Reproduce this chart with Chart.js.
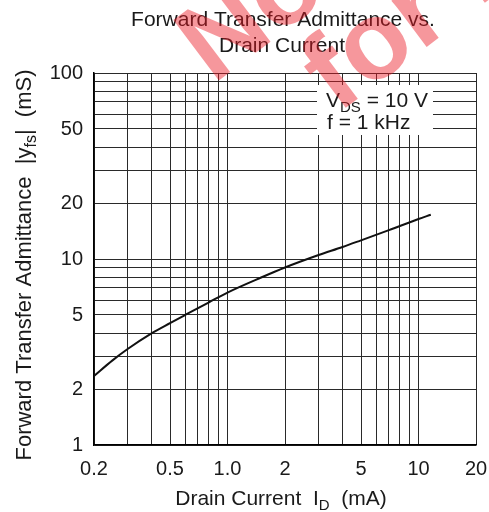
<!DOCTYPE html>
<html><head><meta charset="utf-8">
<script src="https://cdn.jsdelivr.net/npm/chart.js@4/dist/chart.umd.min.js"></script>
<style>html,body{margin:0;padding:0;background:#fff;}#wrap{width:489px;height:512px;}</style>
</head><body><div id="wrap"><canvas id="c" width="489" height="512"></canvas></div>
<script>
const drainCurrent_mA = [0.2,0.25,0.3,0.4,0.5,0.6,0.8,1.0,1.5,2,3,4,5,7,10,11.6];
const admittance_mS   = [2.35,2.85,3.28,3.98,4.52,5.0,5.85,6.6,7.95,9.0,10.5,11.6,12.6,14.3,16.4,17.3];
const xGridValues = [0.2,0.3,0.4,0.5,0.6,0.7,0.8,0.9,1,2,3,4,5,6,7,8,9,10,20];
const xTickValues = [0.2,0.5,1,2,5,10,20];
const xTickLabels = ['0.2','0.5','1.0','2','5','10','20'];
const yGridValues = [1,2,3,4,5,6,7,8,9,10,20,30,40,50,60,70,80,90,100];
const yTickValues = [1,2,5,10,20,50,100];
const yTickLabels = ['1','2','5','10','20','50','100'];
const titleLines = ['Forward Transfer Admittance vs.','Drain Current'];
const conditionLines = [[['V',0],['DS',1],[' = 10 V',0]],[['f = 1 kHz',0]]];
const xTitleParts = [['Drain Current  I',0],['D',1],['  (mA)',0]];
const yTitleParts = [['Forward Transfer Admittance  |y',0],['fs',1],['|  (mS)',0]];
const watermarkLines = ['Not Recommended','for New Design'];

const FONT = '"Liberation Sans", Arial, Helvetica, sans-serif';
const TXT = '#1a1a1a';

function labelFor(vals, labels, v){
  for (let i=0;i<vals.length;i++) if (Math.abs(vals[i]-v) < 1e-9) return labels[i];
  return '';
}
function drawRich(ctx, parts, x, y, size, subSize, align){
  let w = 0;
  const widths = parts.map(p => { ctx.font = (p[1]?subSize:size)+'px '+FONT; const m = ctx.measureText(p[0]).width; w += m; return m; });
  let cx = align==='center' ? x - w/2 : x;
  ctx.textAlign = 'left'; ctx.textBaseline = 'alphabetic';
  parts.forEach((p,i) => {
    ctx.font = (p[1]?subSize:size)+'px '+FONT;
    ctx.fillText(p[0], cx, y + (p[1]? 5 : 0));
    cx += widths[i];
  });
}

const overlay = {
  id: 'overlay',
  afterDraw(chart){
    const ctx = chart.ctx, a = chart.chartArea;
    ctx.save();
    // condition box
    ctx.fillStyle = '#fff';
    ctx.fillRect(a.left+223, a.top+12, 116, 50);
    ctx.fillStyle = TXT;
    drawRich(ctx, conditionLines[0], a.left+232, a.top+34, 21, 15, 'left');
    drawRich(ctx, conditionLines[1], a.left+233, a.top+56, 21, 15, 'left');
    // title
    ctx.textAlign = 'center'; ctx.textBaseline = 'alphabetic';
    ctx.font = '21px '+FONT;
    ctx.fillText(titleLines[0], 283, 26);
    ctx.fillText(titleLines[1], 282, 52);
    // x title
    drawRich(ctx, xTitleParts, 281, 505, 21, 15, 'center');
    // y title
    ctx.save();
    ctx.translate(31, 265);
    ctx.rotate(-Math.PI/2);
    drawRich(ctx, yTitleParts, 0, 0, 22, 16, 'center');
    ctx.restore();
    // watermark
    ctx.save();
    ctx.translate(213, 85);
    ctx.rotate(-37*Math.PI/180);
    ctx.font = 'bold 110px '+FONT;
    ctx.fillStyle = 'rgba(235,25,35,0.45)';
    ctx.textAlign = 'left';
    ctx.fillText(watermarkLines[0], 0, 0);
    ctx.fillText(watermarkLines[1], 82, 98);
    ctx.restore();
    ctx.restore();
  }
};

new Chart(document.getElementById('c'), {
  type: 'line',
  data: {
    datasets: [{
      data: drainCurrent_mA.map((x,i)=>({x:x, y:admittance_mS[i]})),
      borderColor: '#111', borderWidth: 2, pointRadius: 0,
      tension: 0.4, cubicInterpolationMode: 'monotone', fill: false
    }]
  },
  options: {
    responsive: false, animation: false, devicePixelRatio: 1,
    layout: { padding: { left: 0, right: 13, top: 73, bottom: 0 } },
    plugins: { legend: {display:false}, tooltip: {enabled:false}, title: {display:false} },
    scales: {
      x: {
        type: 'logarithmic', min: 0.2, max: 20,
        afterBuildTicks: s => { s.ticks = xGridValues.map(v=>({value:v})); },
        afterFit: s => { s.height = 67; s.paddingLeft = 0; s.paddingRight = 0; s.paddingTop = 0; s.paddingBottom = 0; },
        grid: { color: '#2a2a2a', lineWidth: 1, drawTicks: false },
        border: { color: '#000', width: 1.5 },
        ticks: { autoSkip:false, maxRotation:0, minRotation:0, padding: 12, color: TXT,
                 font: { family: FONT, size: 20 },
                 callback: v => labelFor(xTickValues, xTickLabels, v) }
      },
      y: {
        type: 'logarithmic', min: 1, max: 100,
        afterBuildTicks: s => { s.ticks = yGridValues.map(v=>({value:v})); },
        afterFit: s => { s.width = 94; s.paddingLeft = 0; s.paddingRight = 0; s.paddingTop = 0; s.paddingBottom = 0; },
        grid: { color: '#2a2a2a', lineWidth: 1, drawTicks: false },
        border: { color: '#000', width: 1.5 },
        ticks: { autoSkip:false, padding: 11, color: TXT,
                 font: { family: FONT, size: 20 },
                 callback: v => labelFor(yTickValues, yTickLabels, v) }
      }
    }
  },
  plugins: [overlay]
});
</script></body></html>
